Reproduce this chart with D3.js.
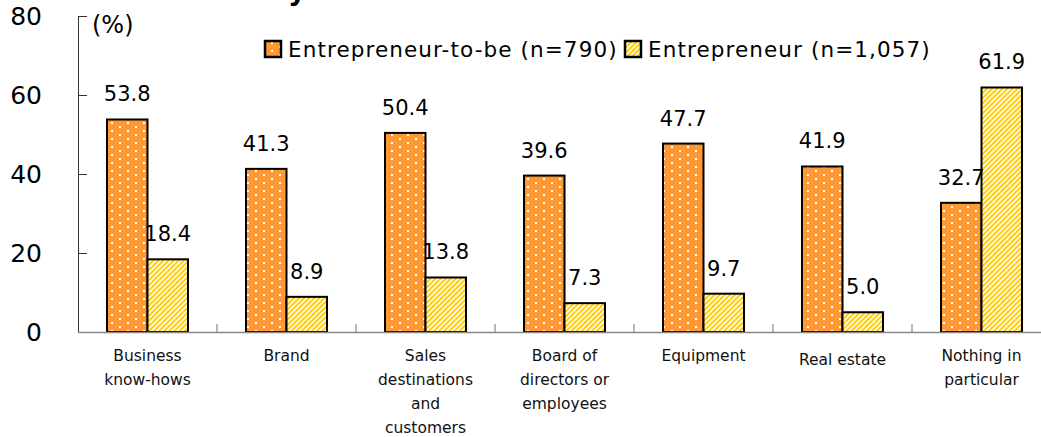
<!DOCTYPE html>
<html>
<head>
<meta charset="utf-8">
<script src="https://cdn.jsdelivr.net/npm/d3@7"></script>
<style>
  html, body { margin: 0; padding: 0; background: #fff; }
  svg { display: block; font-family: "DejaVu Sans", Verdana, sans-serif; }
</style>
</head>
<body>
<svg id="chart" width="1041" height="437"></svg>
<script>
const categories = [
  ["Business", "know-hows"],
  ["Brand"],
  ["Sales", "destinations", "and", "customers"],
  ["Board of", "directors or", "employees"],
  ["Equipment"],
  ["Real estate"],
  ["Nothing in", "particular"]
];
const seriesNames = ["Entrepreneur-to-be (n=790)", "Entrepreneur (n=1,057)"];
const entrepreneurToBe = [53.8, 41.3, 50.4, 39.6, 47.7, 41.9, 32.7];
const entrepreneur = [18.4, 8.9, 13.8, 7.3, 9.7, 5.0, 61.9];
const yTicks = [0, 20, 40, 60, 80];

const svg = d3.select("#chart");
const defs = svg.append("defs");

// orange with white dots
const pDots = defs.append("pattern").attr("id", "dots")
  .attr("patternUnits", "userSpaceOnUse").attr("width", 16).attr("height", 8)
  .attr("x", 107).attr("y", 0);
pDots.append("rect").attr("width", 16).attr("height", 8).attr("fill", "#FF9933");
pDots.append("rect").attr("x", 4).attr("y", 2).attr("width", 2).attr("height", 2).attr("fill", "#fff");
pDots.append("rect").attr("x", 12).attr("y", 6).attr("width", 2).attr("height", 2).attr("fill", "#fff");

// yellow diagonal stripes
const pStr = defs.append("pattern").attr("id", "stripes")
  .attr("patternUnits", "userSpaceOnUse").attr("width", 3.6).attr("height", 10)
  .attr("patternTransform", "rotate(45)");
pStr.append("rect").attr("width", 3.6).attr("height", 10).attr("fill", "#fff");
pStr.append("rect").attr("width", 2.0).attr("height", 10).attr("fill", "#FFCC00");

const fills = ["url(#dots)", "url(#stripes)"];

const x0 = d3.scaleBand().domain(d3.range(categories.length))
  .range([78, 1051]).paddingInner(58 / 139).paddingOuter(29 / 139);
const x1 = d3.scaleBand().domain([0, 1]).range([0, x0.bandwidth()]);
const y = d3.scaleLinear().domain([0, 80]).range([332, 16]);

// clipped title fragment
svg.append("text").attr("x", 288).attr("y", 0)
  .attr("font-size", 28).attr("font-weight", "bold").attr("fill", "#000").text("y");

// bars
const series = [entrepreneurToBe, entrepreneur];
series.forEach((vals, s) => {
  svg.append("g").selectAll("rect").data(vals).join("rect")
    .attr("x", (d, i) => x0(i) + x1(s))
    .attr("y", d => y(d))
    .attr("width", x1.bandwidth())
    .attr("height", d => y(0) - y(d))
    .attr("fill", fills[s])
    .attr("stroke", "#000").attr("stroke-width", 2);
});

// y axis
const yAxis = svg.append("g").attr("transform", "translate(78,0)")
  .call(d3.axisLeft(y).tickValues(yTicks).tickSize(-9).tickSizeOuter(0).tickPadding(36));
yAxis.select(".domain").attr("stroke", "#333").attr("stroke-width", 1);
yAxis.selectAll(".tick line").attr("stroke", "#333");
yAxis.selectAll(".tick text").attr("font-size", 25).attr("fill", "#000")
  .attr("font-family", "DejaVu Sans, Verdana, sans-serif");

// x axis line + boundary ticks
const bounds = d3.range(categories.length + 1).map(i => x0.range()[0] + i * x0.step());
svg.append("line").attr("x1", 78).attr("x2", 1041).attr("y1", 332.5).attr("y2", 332.5)
  .attr("stroke", "#888").attr("stroke-width", 1.5);
svg.append("g").selectAll("line").data(bounds.slice(1, -1)).join("line")
  .attr("x1", d => d).attr("x2", d => d).attr("y1", 332).attr("y2", 324)
  .attr("stroke", "#888").attr("stroke-width", 1.2);

// category labels
const labG = svg.append("g").attr("font-size", 15.5).attr("fill", "#111").attr("text-anchor", "middle");
categories.forEach((lines, i) => {
  const cx = x0(i) + x0.bandwidth() / 2;
  const base = lines[0] === "Real estate" ? 365 : 361;
  const t = labG.append("text").attr("x", cx).attr("y", base);
  lines.forEach((ln, k) => {
    t.append("tspan").attr("x", cx).attr("y", base + k * 24).text(ln);
  });
});

// value labels
series.forEach((vals, s) => {
  svg.append("g").selectAll("text").data(vals).join("text")
    .attr("x", (d, i) => x0(i) + x1(s) + x1.bandwidth() / 2)
    .attr("y", d => y(d) - 18)
    .attr("text-anchor", "middle").attr("font-size", 21).attr("fill", "#000")
    .text(d => d.toFixed(1));
});

// unit label
svg.append("text").attr("x", 92).attr("y", 33).attr("font-size", 24).attr("fill", "#000").text("(%)");

// legend
const legX = [265, 625];
seriesNames.forEach((name, s) => {
  svg.append("rect").attr("x", legX[s]).attr("y", 41).attr("width", 16).attr("height", 16)
    .attr("fill", fills[s]).attr("stroke", "#000").attr("stroke-width", 2.5);
  svg.append("text").attr("x", legX[s] + 23).attr("y", 57)
    .attr("font-size", 21.5).attr("letter-spacing", 1.1).attr("fill", "#000").text(name);
});
</script>
</body>
</html>
